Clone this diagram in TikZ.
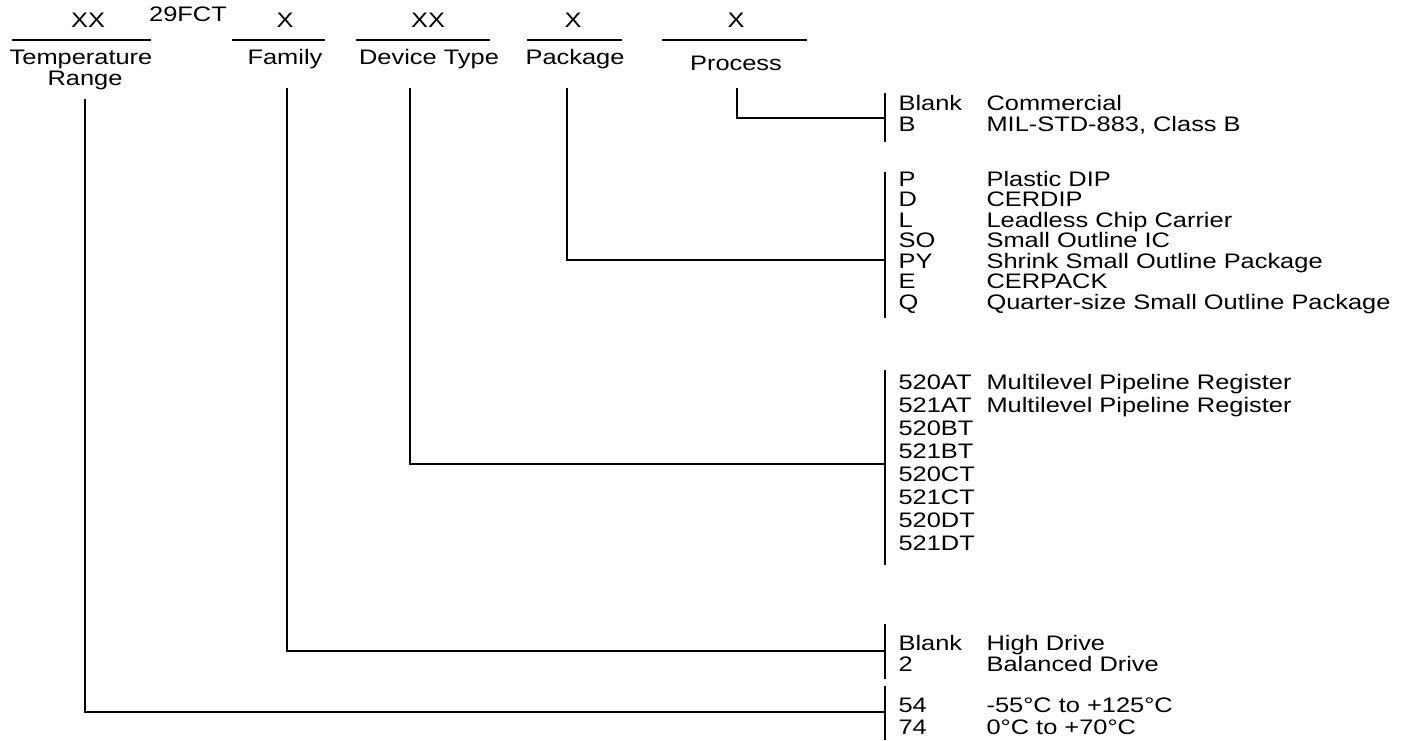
\documentclass[tikz,border=0pt]{standalone}
\usepackage{fontspec}
\setmainfont{Liberation Sans}[FakeStretch=1.21]
\usetikzlibrary{positioning, calc}

% one bracket of options: #1 prefix, #2 first baseline, #3 pitch, #4 code/text list
\newcommand{\OptionRows}[4]{
    \foreach \code/\desc [count=\i from 0] in {#4} {
        \node[optTxt] (#1-\i) at (898, #2+\i*#3) {\code};
        \node[optTxt] (#1-\i-txt) at (986, #2+\i*#3) {\desc};
    }
}

\begin{document}
\begin{tikzpicture}[x=0.5pt, y=-0.5pt, line width=0.55pt,
        txt/.style={inner sep=0pt, font=\fontsize{10.5}{12}\selectfont},
        headTxt/.style={txt, anchor=base},
        optTxt/.style={txt, anchor=base west}]
    \useasboundingbox (0,0) rectangle (1410,740);

    % Part number fields
    \node[headTxt] (tempCode) at (88,27) {XX};
    \node[headTxt] (baseNo) at (188,21) {29FCT};
    \node[headTxt] (famCode) at (285,27) {X};
    \node[headTxt] (devCode) at (428,27) {XX};
    \node[headTxt] (pkgCode) at (573,27) {X};
    \node[headTxt] (procCode) at (736,27) {X};

    \draw (12,40) -- (151,40);
    \draw (232,40) -- (325,40);
    \draw (356,40) -- (490,40);
    \draw (527,40) -- (622,40);
    \draw (662,40) -- (807,40);

    \node[headTxt] (tempLbl) at (81,64) {Temperature};
    \node[headTxt] (tempLbl2) at (85,85) {Range};
    \node[headTxt] (famLbl) at (285,64) {Family};
    \node[headTxt] (devLbl) at (429,64) {Device Type};
    \node[headTxt] (pkgLbl) at (575,64) {Package};
    \node[headTxt] (procLbl) at (736,70) {Process};

    % Stems and joins
    \coordinate (procStem) at (737,88);
    \coordinate (pkgStem) at (567,88);
    \coordinate (devStem) at (410,88);
    \coordinate (famStem) at (287,88);
    \coordinate (tempStem) at (85,99);

    \coordinate (procJoin) at (885,118);
    \coordinate (pkgJoin) at (885,260);
    \coordinate (devJoin) at (885,464);
    \coordinate (famJoin) at (885,651);
    \coordinate (tempJoin) at (885,712);

    \draw (procStem) |- (procJoin);
    \draw (pkgStem) |- (pkgJoin);
    \draw (devStem) |- (devJoin);
    \draw (famStem) |- (famJoin);
    \draw (tempStem) |- (tempJoin);

    % Brackets
    \draw (885,93) -- (885,142);
    \draw (885,172) -- (885,318);
    \draw (885,370) -- (885,565);
    \draw (885,624) -- (885,679);
    \draw (885,686) -- (885,740);

    % Options
    \OptionRows{proc}{110}{21}{Blank/Commercial, B/{MIL-STD-883, Class B}}
    \OptionRows{pkg}{186}{20.5}{P/Plastic DIP, D/CERDIP, L/Leadless Chip Carrier,
        SO/Small Outline IC, PY/Shrink Small Outline Package, E/CERPACK,
        Q/Quarter-size Small Outline Package}
    \OptionRows{dev}{389}{23}{520AT/Multilevel Pipeline Register,
        521AT/Multilevel Pipeline Register, 520BT/{}, 521BT/{}, 520CT/{},
        521CT/{}, 520DT/{}, 521DT/{}}
    \OptionRows{fam}{650}{21}{Blank/High Drive, 2/Balanced Drive}
    \OptionRows{temp}{712}{22}{54/-55°C to +125°C, 74/0°C to +70°C}
\end{tikzpicture}
\end{document}
